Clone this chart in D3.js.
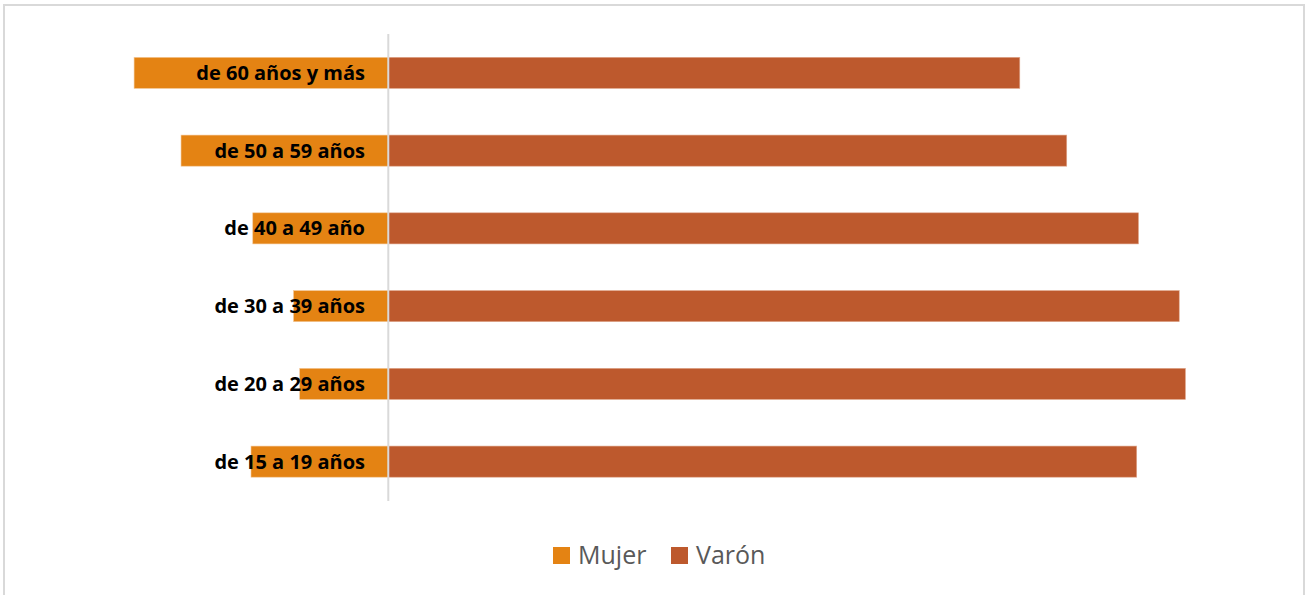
<!DOCTYPE html>
<html>
<head>
<meta charset="utf-8">
<script src="https://cdn.jsdelivr.net/npm/d3@7"></script>
<style>
  body { margin: 0; background: #fff; }
  svg { display: block; }
</style>
</head>
<body>
<div id="chart"></div>
<script>
// age groups, top to bottom
const grupos = ["de 60 años y más", "de 50 a 59 años", "de 40 a 49 año", "de 30 a 39 años", "de 20 a 29 años", "de 15 a 19 años"];
// percentages per group (Mujer drawn to the left)
const mujer = [28.7, 23.4, 15.3, 10.7, 10.0, 15.5];
const varon = [71.3, 76.6, 84.7, 89.3, 90.0, 84.5];
const series = ["Mujer", "Varón"];
const colores = ["#E48313", "#BD592D"];

const width = 1307, height = 595;

const svg = d3.select("#chart").append("svg")
    .attr("width", width)
    .attr("height", height);

// outer frame
svg.append("rect")
    .attr("x", 4).attr("y", 5)
    .attr("width", 1300).attr("height", 620)
    .attr("fill", "white")
    .attr("stroke", "#d9d9d9")
    .attr("stroke-width", 2);

let x = d3.scaleLinear()
    .domain([-40, 100])
    .range([34, 1274]);

let y = d3.scaleBand()
    .domain(grupos)
    .range([34, 500.5])
    .paddingInner(0.6)
    .paddingOuter(0.3);

let filas = grupos.map((g, i) => ({ grupo: g, mujer: mujer[i], varon: varon[i] }));

// Mujer bars (left of zero)
svg.selectAll("rect.mujer")
    .data(filas)
    .enter()
    .append("rect")
    .attr("class", "mujer")
    .attr("x", d => x(-d.mujer))
    .attr("y", d => y(d.grupo))
    .attr("width", d => x(0) - x(-d.mujer))
    .attr("height", y.bandwidth())
    .attr("fill", colores[0])
    .attr("stroke", "#f3c89a")
    .attr("stroke-width", 0.6);

// Varón bars
svg.selectAll("rect.varon")
    .data(filas)
    .enter()
    .append("rect")
    .attr("class", "varon")
    .attr("x", x(0))
    .attr("y", d => y(d.grupo))
    .attr("width", d => x(d.varon) - x(0))
    .attr("height", y.bandwidth())
    .attr("fill", colores[1])
    .attr("stroke", "#e0a88e")
    .attr("stroke-width", 0.6);

// vertical axis line at zero
svg.append("line")
    .attr("x1", x(0)).attr("x2", x(0))
    .attr("y1", 34).attr("y2", 501)
    .attr("stroke", "#d9d9d9")
    .attr("stroke-width", 2);

// category labels, drawn over the bars
svg.selectAll("text.cat")
    .data(grupos)
    .enter()
    .append("text")
    .attr("class", "cat")
    .attr("x", 365)
    .attr("y", d => y(d) + y.bandwidth() / 2)
    .attr("dy", "0.35em")
    .attr("text-anchor", "end")
    .attr("font-family", "'Open Sans', sans-serif")
    .attr("font-weight", "bold")
    .attr("font-size", 20)
    .attr("fill", "#000")
    .text(d => d);

// legend
let leyenda = svg.append("g");
let posLeyenda = [553, 671];
series.forEach((s, i) => {
    leyenda.append("rect")
        .attr("x", posLeyenda[i]).attr("y", 547)
        .attr("width", 17).attr("height", 17)
        .attr("fill", colores[i]);
    leyenda.append("text")
        .attr("x", posLeyenda[i] + 25)
        .attr("y", 564)
        .attr("font-family", "'Open Sans', sans-serif")
        .attr("font-size", 25)
        .attr("fill", "#595959")
        .text(s);
});
</script>
</body>
</html>
